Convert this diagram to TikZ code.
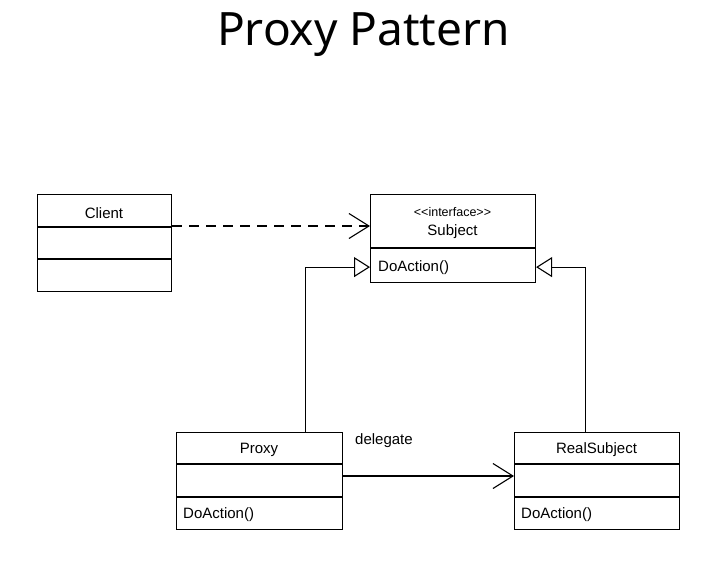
\documentclass[tikz,border=0pt]{standalone}
\usepackage{fontspec}
\setmainfont{Liberation Sans}
\newfontfamily\titlefont{Noto Sans}
\usetikzlibrary{arrows.meta}
\begin{document}
\begin{tikzpicture}[x=1pt,y=-1pt,
  box/.style={draw, line width=1.1pt, anchor=north west, inner sep=0pt},
  lbl/.style={font=\fontsize{15}{17}\selectfont, inner sep=0pt},
  conn/.style={line width=1.1pt},
  barb/.style={-{Straight Barb[length=20pt,width=25pt,line width=1.1pt]}},
  inherit/.style={-{Triangle[open,length=16pt,width=20pt,line width=1.1pt,fill=white]}}]
\useasboundingbox (0,0) rectangle (716,565);

\node[font=\titlefont\fontsize{46}{50}\selectfont, anchor=base, inner sep=0pt] (title) at (363.5,45) {Proxy Pattern};

% Client
\node[box, minimum width=134pt, minimum height=97pt] (client) at (37,194) {};
\draw[conn] (37,227) -- (171,227);
\draw[conn] (37,259) -- (171,259);
\node[lbl] (clientname) at (104,213) {Client};

% Subject
\node[box, minimum width=165pt, minimum height=88pt] (subject) at (370,194) {};
\draw[conn] (370,248) -- (535,248);
\node[lbl, font=\fontsize{12.5}{14}\selectfont] (subjst) at (452.5,212) {{<}{<}interface{>}{>}};
\node[lbl] (subjname) at (452.5,231.5) {Subject};
\node[lbl, anchor=west] (subjop) at (378,267.5) {DoAction()};

% Proxy
\node[box, minimum width=166pt, minimum height=97pt] (proxy) at (176,432) {};
\draw[conn] (176,464) -- (342,464);
\draw[conn] (176,497) -- (342,497);
\node[lbl] (proxyname) at (259,450) {Proxy};
\node[lbl, anchor=west] (proxyop) at (183,515) {DoAction()};

% RealSubject
\node[box, minimum width=165pt, minimum height=97pt] (real) at (514,432) {};
\draw[conn] (514,464) -- (679,464);
\draw[conn] (514,497) -- (679,497);
\node[lbl] (realname) at (596.5,450) {RealSubject};
\node[lbl, anchor=west] (realop) at (521,515) {DoAction()};

% connectors
\draw[conn, barb, dash pattern=on 10pt off 7pt] ([yshift=-32pt]client.north east) -- ([yshift=-32pt]subject.north west);
\draw[conn, inherit] ([xshift=46pt]proxy.north) |- ([yshift=16pt]subject.south west);
\draw[conn, inherit] ([xshift=-11.5pt]real.north) |- ([yshift=16pt]subject.south east);
\draw[conn, barb] ([yshift=-44pt]proxy.north east) -- ([yshift=-44pt]real.north west);
\node[lbl, anchor=west] (delegate) at (355,441) {delegate};
\end{tikzpicture}
\end{document}
